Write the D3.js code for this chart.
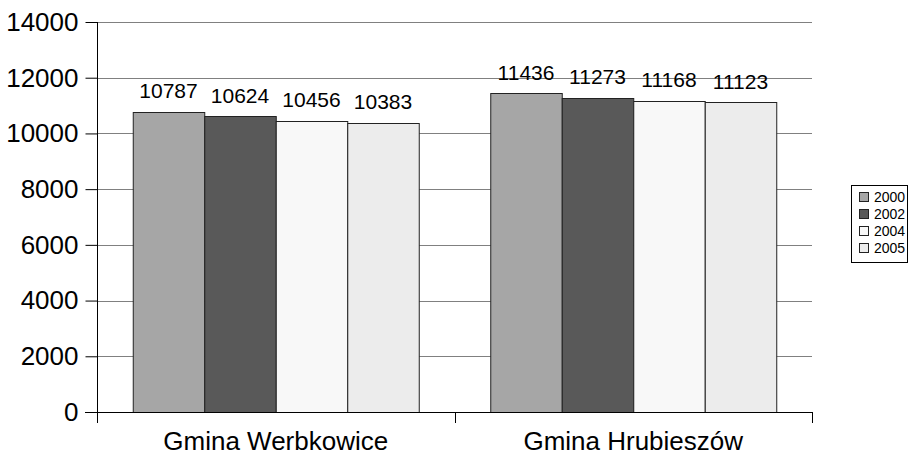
<!DOCTYPE html>
<html>
<head>
<meta charset="utf-8">
<script src="https://cdn.jsdelivr.net/npm/d3@7"></script>
<style>
  html, body { margin: 0; padding: 0; background: #fff; }
  svg { display: block; font-family: "Liberation Sans", Arial, sans-serif; }
</style>
</head>
<body>
<svg id="chart" width="908" height="459"></svg>
<script>
const categories = ["Gmina Werbkowice", "Gmina Hrubieszów"];
const seriesNames = ["2000", "2002", "2004", "2005"];
const values2000 = [10787, 11436];
const values2002 = [10624, 11273];
const values2004 = [10456, 11168];
const values2005 = [10383, 11123];
const yTicks = [0, 2000, 4000, 6000, 8000, 10000, 12000, 14000];
const seriesColors = ["#a6a6a6", "#595959", "#f8f8f8", "#ececec"];

(function () {
const series = [values2000, values2002, values2004, values2005];
const svg = d3.select("#chart");
const FONT = "Liberation Sans, Arial, sans-serif";

const pLeft = 97, pRight = 812, pTop = 22, pBottom = 412;

const y = d3.scaleLinear().domain([0, 14000]).range([pBottom, pTop]);
const x0 = d3.scaleBand().domain(categories).range([pLeft, pRight]).padding(0);
const bw = x0.bandwidth();
const x1 = d3.scaleBand().domain(seriesNames).range([bw * 0.1, bw * 0.9]).padding(0);

// gridlines
svg.append("g").selectAll("line").data(yTicks.filter(d => d > 0)).join("line")
  .attr("x1", pLeft).attr("x2", pRight)
  .attr("y1", d => Math.round(y(d)) + 0.5).attr("y2", d => Math.round(y(d)) + 0.5)
  .attr("stroke", "#808080").attr("stroke-width", 1);

// bars
const groups = svg.append("g").selectAll("g").data(categories).join("g")
  .attr("transform", c => `translate(${x0(c)},0)`);

groups.each(function(c, ci) {
  const g = d3.select(this);
  seriesNames.forEach((s, si) => {
    const v = series[si][ci];
    g.append("rect")
      .attr("x", x1(s) + 0.5)
      .attr("y", Math.round(y(v)) + 0.5)
      .attr("width", x1.bandwidth())
      .attr("height", Math.round(y(0)) - Math.round(y(v)))
      .attr("fill", seriesColors[si])
      .attr("stroke", "#222").attr("stroke-width", 1);
    g.append("text")
      .attr("x", x1(s) + x1.bandwidth() / 2)
      .attr("y", y(v) - 13.5)
      .attr("text-anchor", "middle")
      .attr("font-family", FONT)
      .attr("font-size", 21)
      .attr("fill", "#000")
      .text(v);
  });
});

// y axis
const yAxis = d3.axisLeft(y).tickValues(yTicks).tickSize(12).tickPadding(7).tickFormat(d3.format("d"));
const ya = svg.append("g").attr("transform", `translate(${pLeft + 0.5},0)`).call(yAxis);
ya.select(".domain").remove();
ya.selectAll(".tick line").attr("stroke", "#000");
ya.selectAll(".tick text").attr("font-size", 26).attr("fill", "#000").attr("font-family", FONT);
svg.append("line").attr("x1", pLeft + 0.5).attr("x2", pLeft + 0.5).attr("y1", pTop).attr("y2", pBottom + 11)
  .attr("stroke", "#000");

// x axis
svg.append("line").attr("x1", pLeft - 12).attr("x2", pRight).attr("y1", pBottom + 0.5).attr("y2", pBottom + 0.5)
  .attr("stroke", "#000");
const boundaries = categories.map(c => x0(c)).concat([pRight]);
svg.append("g").selectAll("line").data(boundaries).join("line")
  .attr("x1", d => Math.round(d) + 0.5).attr("x2", d => Math.round(d) + 0.5)
  .attr("y1", pBottom).attr("y2", pBottom + 11)
  .attr("stroke", "#000");
svg.append("g").selectAll("text").data(categories).join("text")
  .attr("x", c => x0(c) + bw / 2)
  .attr("y", 450)
  .attr("text-anchor", "middle")
  .attr("font-family", FONT)
  .attr("font-size", 26)
  .attr("fill", "#000")
  .text(c => c);

// legend
const lg = svg.append("g");
lg.append("rect").attr("x", 851.5).attr("y", 185.5).attr("width", 56).attr("height", 77)
  .attr("fill", "#fff").attr("stroke", "#000");
seriesNames.forEach((s, i) => {
  const cy = 197 + i * 17;
  lg.append("rect").attr("x", 859.5).attr("y", cy - 4.5).attr("width", 9).attr("height", 9)
    .attr("fill", seriesColors[i]).attr("stroke", "#222");
  lg.append("text").attr("x", 874).attr("y", cy + 5).attr("font-family", FONT)
    .attr("font-size", 14).attr("fill", "#000").text(s);
});
})();
</script>
</body>
</html>
